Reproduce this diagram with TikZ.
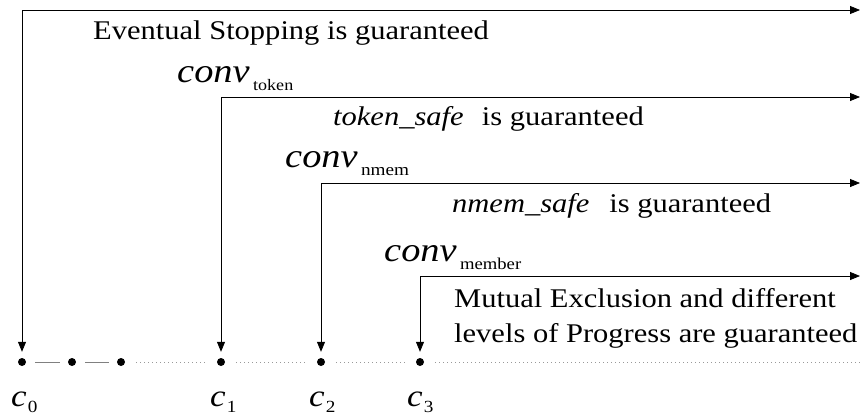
\documentclass[tikz,border=0pt]{standalone}
\usepackage{fontspec}
\setmainfont{Liberation Serif}[ItalicFont={Liberation Serif Italic}]
\usetikzlibrary{arrows.meta}

% text is set slightly wide
\newcommand\wide[1]{\scalebox{1.13}[1]{#1}}
\newcommand\bodyfont{\fontsize{27bp}{32bp}\selectfont}
\newcommand\bigital{\fontsize{34bp}{40bp}\selectfont\itshape}
\newcommand\convlabel[2]{\wide{\bigital conv\hspace{3bp}\raisebox{-8bp}{\fontsize{#2}{20bp}\selectfont\upshape #1}}}
\newcommand\clabel[1]{\wide{\fontsize{31bp}{36bp}\selectfont\itshape c\hspace{1bp}\raisebox{-6bp}{\fontsize{17bp}{20bp}\selectfont\upshape #1}}}

\begin{document}
\begin{tikzpicture}[x=1bp, y=-1bp,
  txt/.style={anchor=base west, inner sep=0pt, font=\bodyfont},
  lbl/.style={anchor=base west, inner sep=0pt},
  dot/.style={circle, fill=black, inner sep=0pt, minimum size=8bp},
  span/.style={line width=0.8bp, black, {Triangle[length=10bp,width=8bp]}-{Triangle[length=10bp,width=8bp]}, shorten >=6bp},
  solidseg/.style={line width=0.9bp, gray, shorten <=9bp, shorten >=8bp},
  dotseg/.style={line width=0.9bp, gray!80, dash pattern=on 1.2bp off 2.8bp, shorten <=11bp, shorten >=9bp}
]
\useasboundingbox (0,0) rectangle (860,414);

% configurations on the time line
\node[dot] (d0) at (22,362) {};
\node[dot] (da) at (72,362) {};
\node[dot] (db) at (121,362) {};
\node[dot] (d1) at (221,362) {};
\node[dot] (d2) at (321,362) {};
\node[dot] (d3) at (420,362) {};
\coordinate (tend) at (860,362);

\draw[solidseg] (d0) -- (da);
\draw[solidseg] (da) -- (db);
\draw[dotseg] (db) -- (d1);
\draw[dotseg] (d1) -- (d2);
\draw[dotseg] (d2) -- (d3);
\draw[dotseg, shorten >=0pt] (d3) -- (tend);

% guarantee spans
\coordinate (e0) at (860,10);
\coordinate (e1) at (860,97);
\coordinate (e2) at (860,183);
\coordinate (e3) at (860,276);
\draw[span] (e0) -| (d0);
\draw[span] (e1) -| (d1);
\draw[span] (e2) -| (d2);
\draw[span] (e3) -| (d3);

% labels
\node[txt] (t0) at (93,39) {\wide{Eventual Stopping is guaranteed}};
\node[lbl] (k1) at (177,82) {\convlabel{token}{16bp}};
\node[txt] (t1) at (333,125) {\wide{\itshape token\_safe\upshape\hspace{0.6em}is guaranteed}};
\node[lbl] (k2) at (285,167) {\convlabel{nmem}{17bp}};
\node[txt] (t2) at (452,212) {\wide{\itshape nmem\_safe\upshape\hspace{0.65em}is guaranteed}};
\node[lbl] (k3) at (384,261) {\convlabel{member}{16.5bp}};
\node[txt] (t3a) at (454,307) {\wide{Mutual Exclusion and different}};
\node[txt] (t3b) at (454,342) {\wide{levels of Progress are guaranteed}};

\node[lbl] (c0) at (11,406) {\clabel{0}};
\node[lbl] (c1) at (210,406) {\clabel{1}};
\node[lbl] (c2) at (309,406) {\clabel{2}};
\node[lbl] (c3) at (407,406) {\clabel{3}};
\end{tikzpicture}
\end{document}
